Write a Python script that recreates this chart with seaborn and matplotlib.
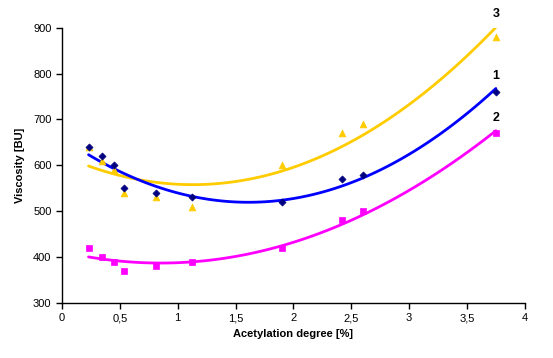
import numpy as np
import pandas as pd
import matplotlib
matplotlib.use("Agg")
import matplotlib.pyplot as plt
import seaborn as sns
from matplotlib.ticker import FuncFormatter, MultipleLocator

# ---- data ----
acetylation = [0.23, 0.35, 0.45, 0.54, 0.81, 1.12, 1.90, 2.42, 2.60, 3.75]
visc_1 = [640, 620, 600, 550, 540, 530, 520, 570, 580, 760]
visc_2 = [420, 400, 390, 370, 380, 390, 420, 480, 500, 670]
visc_3 = [640, 610, 590, 540, 530, 510, 600, 670, 690, 880]
series_names = ["1", "2", "3"]
x_ticks = [0, 0.5, 1, 1.5, 2, 2.5, 3, 3.5, 4]
y_ticks = [300, 400, 500, 600, 700, 800, 900]

sns.set_theme(style="ticks")
plt.rcParams['font.family'] = ['Liberation Sans', 'DejaVu Sans']

fig = plt.figure(figsize=(5.53, 3.58), dpi=100)
ax = fig.add_axes([0.112, 0.1536, 0.837, 0.769])

styles = {
    "1": dict(line="#0000FF", mark="#000080", marker="D", ms=13),
    "2": dict(line="#FF00FF", mark="#FF00FF", marker="s", ms=18),
    "3": dict(line="#FFCC00", mark="#FFCC00", marker="^", ms=24),
}
values = {"1": visc_1, "2": visc_2, "3": visc_3}
df = pd.DataFrame({"x": acetylation * 3,
                   "y": visc_1 + visc_2 + visc_3,
                   "series": sum([[s] * len(acetylation) for s in series_names], [])})

# scatter markers (series 3 drawn first so navy diamonds sit on top)
for s in ["3", "2", "1"]:
    st = styles[s]
    sub = df[df.series == s]
    sns.scatterplot(data=sub, x="x", y="y", ax=ax, marker=st["marker"],
                    color=st["mark"], s=st["ms"], edgecolor=st["mark"], linewidth=0.5,
                    zorder=3, legend=False)

# polynomial trendlines
for s in ["3", "1", "2"]:
    st = styles[s]
    sub = df[df.series == s]
    sns.regplot(data=sub, x="x", y="y", order=2, ci=None, scatter=False, ax=ax,
                truncate=True, line_kws=dict(color=st["line"], lw=2, zorder=2))
    coef = np.polyfit(sub.x, sub.y, 2)
    xe = sub.x.max()
    ax.annotate(s, (xe, np.polyval(coef, xe)), xytext=(0, 5), textcoords="offset points",
                ha="center", va="bottom", fontsize=9, fontweight="bold", color="black")

ax.set_xlim(0, 4)
ax.set_ylim(300, 900)
ax.set_xticks(x_ticks)
ax.set_yticks(y_ticks)
ax.xaxis.set_major_formatter(FuncFormatter(lambda v, p: ("%g" % v).replace(".", ",")))
ax.set_xlabel("Acetylation degree [%]", fontsize=8, fontweight="bold", color="black", labelpad=4)
ax.set_ylabel("Viscosity [BU]", fontsize=8, fontweight="bold", color="black", labelpad=6)
ax.tick_params(axis="both", labelsize=8, colors="black", direction="out", length=4, width=1)
for sp in ["left", "bottom"]:
    ax.spines[sp].set_color("black")
    ax.spines[sp].set_linewidth(1)
sns.despine(ax=ax)

fig.savefig("out.png", dpi=100)
